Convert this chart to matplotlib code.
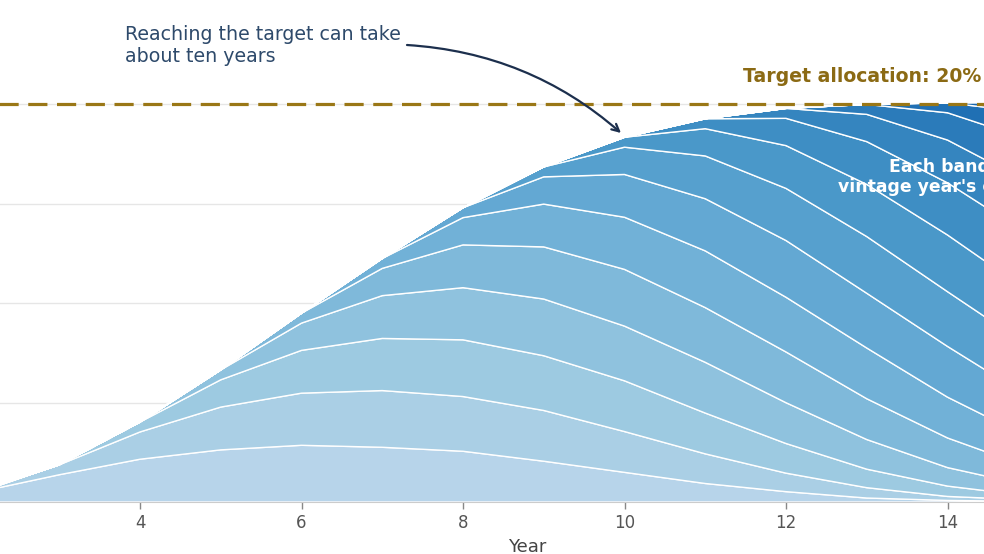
import matplotlib
matplotlib.use("Agg")
import matplotlib.pyplot as plt
import numpy as np

# ---- data ----
years = list(range(1, 17))                 # calendar year of the programme
vintage_years = list(range(1, 16))         # each vintage starts in this year
# NAV (% of portfolio) of one vintage by fund age (age 0 = commitment year)
nav_by_age = [0.0, 0.50, 1.37, 2.15, 2.62, 2.85, 2.75, 2.55, 2.05, 1.49,
              0.93, 0.52, 0.20, 0.08, 0.03, 0.0]
target = 20
xticks = [2, 4, 6, 8, 10, 12, 14, 16]
yticks = [0, 5, 10, 15, 20]

# build one row per vintage from the age profile
rows = []
for v in vintage_years:
    rows.append([nav_by_age[y - v] if y >= v else 0.0 for y in years])

W, H = 984, 554
fig = plt.figure(figsize=(W / 100, H / 100), dpi=100)

px_per_year = 80.75
x0, x1 = 1.0, 16.6
left_px = 140 - (4 - x0) * px_per_year
width_px = (x1 - x0) * px_per_year
ax = fig.add_axes([left_px / W, (H - 502) / H, width_px / W, 502 / H])
ax.set_xlim(x0, x1)
ax.set_ylim(0, 502 / 19.9)

cmap = plt.get_cmap("Blues")
colors = [cmap(0.30 + 0.0375 * i) for i in range(len(vintage_years))]
ax.stackplot(years, rows, colors=colors, edgecolor="white", linewidth=1.0,
             zorder=2)

ax.axhline(target, color="#9a7716", lw=2.3, ls=(0, (6, 3)), zorder=3)

for s in ["top", "right", "left"]:
    ax.spines[s].set_visible(False)
ax.spines["bottom"].set_color("#cccccc")
ax.set_xticks(xticks)
ax.set_yticks(yticks)
ax.tick_params(axis="x", colors="#888888", labelcolor="#555555",
               labelsize=12, length=5, width=1, pad=4)
ax.tick_params(axis="y", length=0, labelsize=12, labelcolor="#555555")
ax.grid(axis="y", color="#e6e6e6", lw=1, zorder=0)
ax.set_axisbelow(True)
ax.set_xlabel("Year", fontsize=13, color="#444444", labelpad=4)

def px2x(px):
    return (px - 140) / px_per_year + 4

def py2y(py):
    return (502 - py) / 19.9

ax.text(px2x(125), py2y(45), "Reaching the target can take\nabout ten years",
        fontsize=13.7, color="#2e4a6b", ha="left", va="center")
ax.annotate("", xy=(px2x(621), py2y(133)), xytext=(px2x(407), py2y(45)),
            arrowprops=dict(arrowstyle="->", color="#1c2f4d", lw=1.6,
                            connectionstyle="arc3,rad=-0.17",
                            mutation_scale=13, shrinkA=0, shrinkB=0),
            zorder=5)
ax.text(px2x(981), py2y(76), "Target allocation: 20%", fontsize=13.6,
        fontweight="bold", color="#8b6a14", ha="right", va="center")
ax.text(px2x(889), py2y(167), "Each band is one", fontsize=12.4,
        fontweight="bold", color="white", ha="left", va="center", zorder=6)
ax.text(px2x(838), py2y(187), "vintage year's commitment", fontsize=12.4,
        fontweight="bold", color="white", ha="left", va="center", zorder=6)

fig.savefig("out.png", dpi=100)
